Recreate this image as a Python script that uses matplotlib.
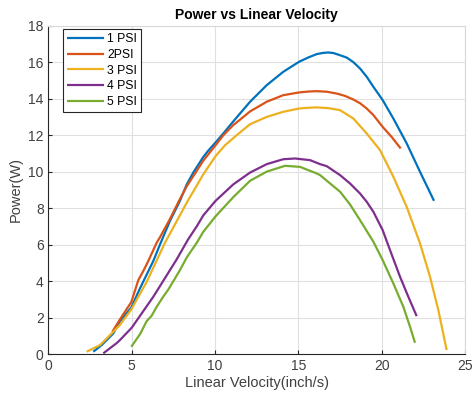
import matplotlib
matplotlib.use("Agg")
import matplotlib.pyplot as plt

x1 = [2.69, 3.2, 3.89, 4.29, 4.97, 5.49, 6.29, 6.69, 7.29, 7.89, 8.3, 8.69, 9.29, 9.59, 10.03, 10.5, 11.09, 12.1, 13.1, 14.09, 15.04, 15.6, 16.1, 16.5, 16.8, 17.1, 17.5, 17.9, 18.3, 18.7, 19.1, 19.5, 20.06, 20.7, 21.5, 22.3, 23.14]
y1 = [0.13, 0.5, 1.13, 1.8, 2.55, 3.6, 5.1, 6.0, 7.3, 8.4, 9.3, 9.95, 10.8, 11.15, 11.6, 12.1, 12.75, 13.83, 14.74, 15.47, 16.02, 16.26, 16.44, 16.51, 16.53, 16.5, 16.38, 16.25, 16.0, 15.65, 15.2, 14.65, 13.92, 12.91, 11.55, 9.99, 8.4]

x2 = [3.83, 4.29, 4.97, 5.39, 5.69, 5.99, 6.49, 6.69, 7.29, 7.89, 8.3, 9.29, 10.03, 10.5, 11.09, 11.5, 12.1, 13.1, 14.09, 15.04, 15.6, 16.1, 16.7, 17.3, 17.8, 18.3, 18.7, 19.1, 19.5, 20.06, 20.6, 21.14]
y2 = [1.22, 1.9, 2.85, 4.05, 4.55, 5.1, 6.1, 6.4, 7.4, 8.5, 9.2, 10.6, 11.45, 12.0, 12.55, 12.85, 13.3, 13.83, 14.19, 14.34, 14.39, 14.41, 14.38, 14.28, 14.15, 13.95, 13.75, 13.46, 13.1, 12.45, 11.9, 11.27]

x3 = [2.29, 3.09, 3.89, 4.29, 4.97, 5.89, 6.99, 7.29, 8.3, 9.29, 10.03, 10.6, 11.3, 12.1, 13.1, 14.09, 15.04, 15.6, 16.1, 16.8, 17.5, 18.3, 19.1, 19.9, 20.7, 21.5, 22.3, 22.9, 23.4, 23.9]
y3 = [0.13, 0.49, 1.22, 1.6, 2.45, 3.95, 6.1, 6.6, 8.3, 9.85, 10.85, 11.45, 12.0, 12.6, 13.0, 13.28, 13.46, 13.5, 13.52, 13.48, 13.37, 12.91, 12.09, 11.18, 9.72, 8.07, 6.07, 4.24, 2.41, 0.22]

x4 = [3.29, 4.09, 4.29, 5.0, 6.29, 7.29, 7.7, 8.39, 8.9, 9.29, 10.03, 11.09, 12.1, 13.1, 14.09, 14.8, 15.7, 16.3, 16.7, 17.5, 18.1, 18.7, 19.1, 19.5, 20.06, 20.5, 21.1, 21.6, 22.1]
y4 = [0.04, 0.6, 0.77, 1.45, 3.14, 4.6, 5.2, 6.3, 7.0, 7.6, 8.4, 9.3, 9.95, 10.41, 10.68, 10.72, 10.63, 10.41, 10.3, 9.81, 9.35, 8.8, 8.35, 7.8, 6.79, 5.7, 4.24, 3.14, 2.08]

x5 = [4.97, 5.5, 5.89, 6.19, 6.5, 6.89, 7.2, 7.89, 8.3, 8.9, 9.29, 10.03, 11.09, 12.1, 13.1, 14.2, 15.1, 16.1, 16.3, 17.5, 18.1, 18.7, 19.5, 20.06, 20.7, 21.3, 21.7, 22.0]
y5 = [0.4, 1.1, 1.8, 2.1, 2.6, 3.15, 3.55, 4.6, 5.3, 6.1, 6.7, 7.55, 8.6, 9.5, 10.0, 10.32, 10.26, 9.9, 9.81, 8.9, 8.2, 7.34, 6.16, 5.15, 3.87, 2.59, 1.5, 0.62]

labels = ["1 PSI", "2PSI", "3 PSI", "4 PSI", "5 PSI"]
colors = ["#0072BD", "#D95319", "#EDB120", "#7E2F8E", "#77AC30"]
xticks = [0, 5, 10, 15, 20, 25]
yticks = [0, 2, 4, 6, 8, 10, 12, 14, 16, 18]

plt.rcParams['font.family'] = ['Liberation Sans', 'DejaVu Sans']
fig = plt.figure(figsize=(4.74, 4.01), dpi=100)
ax = fig.add_axes([0.1023, 0.117, 0.8787, 0.819])

for xs, ys, lab, c in zip([x1, x2, x3, x4, x5], [y1, y2, y3, y4, y5], labels, colors):
    ax.plot(xs, ys, color=c, lw=1.6, label=lab, solid_capstyle='butt', solid_joinstyle='round')

ax.set_xlim(0, 25)
ax.set_ylim(0, 18)
ax.set_xticks(xticks)
ax.set_yticks(yticks)
ax.grid(True, color='#e0e0e0', lw=0.8)
ax.set_axisbelow(True)
ax.tick_params(direction='in', length=3, labelsize=10, colors='#262626', labelcolor='#404040')
for s in ['left', 'bottom']:
    ax.spines[s].set_color('#262626')
    ax.spines[s].set_linewidth(0.8)
for s in ['top', 'right']:
    ax.spines[s].set_color('#d8d8d8')
    ax.spines[s].set_linewidth(0.8)

ax.set_title("Power vs Linear Velocity", fontsize=10, fontweight='bold', pad=5)
ax.set_xlabel("Linear Velocity(inch/s)", fontsize=10.5, color='#404040', labelpad=2)
ax.set_ylabel("Power(W)", fontsize=10.5, color='#404040', labelpad=4)

leg = ax.legend(loc='upper left', bbox_to_anchor=(0.035, 0.99), fontsize=8.8, handlelength=3.0,
                handletextpad=0.25, labelspacing=0.3, borderpad=0.35, fancybox=False,
                framealpha=1, edgecolor='#262626', borderaxespad=0)
leg.get_frame().set_linewidth(0.8)

fig.savefig("out.png", dpi=100)
